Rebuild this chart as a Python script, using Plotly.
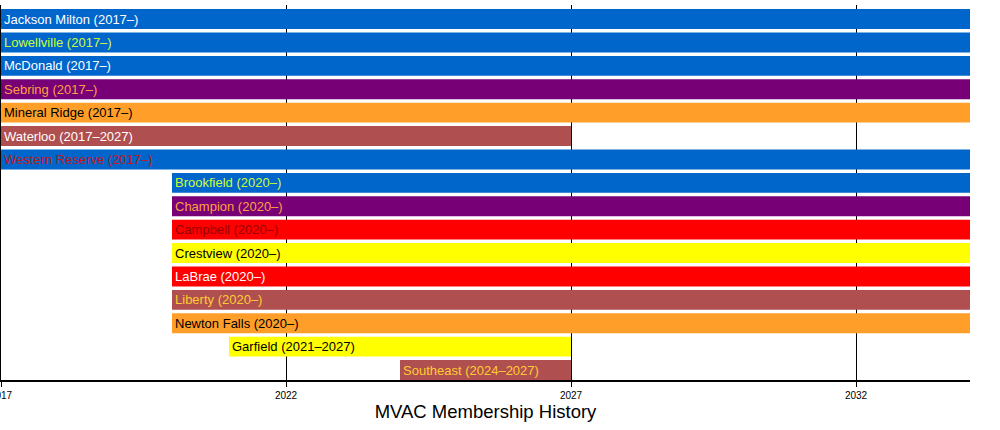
import plotly.graph_objects as go

schools = ["Jackson Milton", "Lowellville", "McDonald", "Sebring", "Mineral Ridge",
           "Waterloo", "Western Reserve", "Brookfield", "Champion", "Campbell",
           "Crestview", "LaBrae", "Liberty", "Newton Falls", "Garfield", "Southeast"]
start = [2017, 2017, 2017, 2017, 2017, 2017, 2017, 2020, 2020, 2020,
         2020, 2020, 2020, 2020, 2021, 2024]
end = [None, None, None, None, None, 2027, None, None, None, None,
       None, None, None, None, 2027, 2027]
bar_colors = ["#0066cc", "#0066cc", "#0066cc", "#770077", "#ff9f2a",
              "#b04f4f", "#0066cc", "#0066cc", "#770077", "#ff0000",
              "#ffff00", "#ff0000", "#b04f4f", "#ff9f2a", "#ffff00", "#b04f4f"]
text_colors = ["#ffffff", "#ccff33", "#ffffff", "#ffa040", "#000000",
               "#ffffff", "#c01818", "#ccff33", "#ffa040", "#990000",
               "#000000", "#ffffff", "#ffcc33", "#000000", "#000000", "#ffcc33"]

axis_end = 2034  # open-ended memberships run to the edge

stop = [e if e is not None else axis_end for e in end]
labels = ["%s (%d\u2013%s)" % (s, a, "" if e is None else str(e))
          for s, a, e in zip(schools, start, end)]

fig = go.Figure(go.Bar(
    y=list(range(len(schools))),
    x=[b - a for a, b in zip(start, stop)],
    base=start,
    orientation="h",
    width=0.85,
    marker=dict(color=bar_colors, line=dict(width=0)),
    text=labels,
    textposition="inside",
    insidetextanchor="start",
    textangle=0,
    constraintext="none",
    textfont=dict(color=text_colors, size=13, family="Liberation Sans, Arial"),
    hoverinfo="text",
))

fig.update_layout(
    width=1000, height=430,
    margin=dict(l=1, r=30, t=5, b=50, autoexpand=False),
    plot_bgcolor="white", paper_bgcolor="white",
    showlegend=False,
    font=dict(family="Liberation Sans, Arial", color="black"),
    xaxis=dict(
        range=[2017, axis_end], tick0=2017, dtick=5,
        showgrid=True, gridcolor="black", gridwidth=1,
        showline=True, linecolor="black", linewidth=1.5,
        ticks="outside", ticklen=5, tickcolor="black",
        tickfont=dict(size=10), zeroline=False, automargin=False,
        ticklabeloverflow="allow",
        title=dict(text="MVAC Membership History", font=dict(size=18.5), standoff=2),
    ),
    yaxis=dict(
        range=[15.425, -0.6], showticklabels=False, showgrid=False,
        zeroline=False, showline=True, linecolor="black", linewidth=1.5,
        automargin=False,
    ),
)

# drop the browser's default body margin so the chart sits at the page corner
fig.write_html("out.html", config={"displayModeBar": False},
               post_script="document.body.style.margin='0';")
